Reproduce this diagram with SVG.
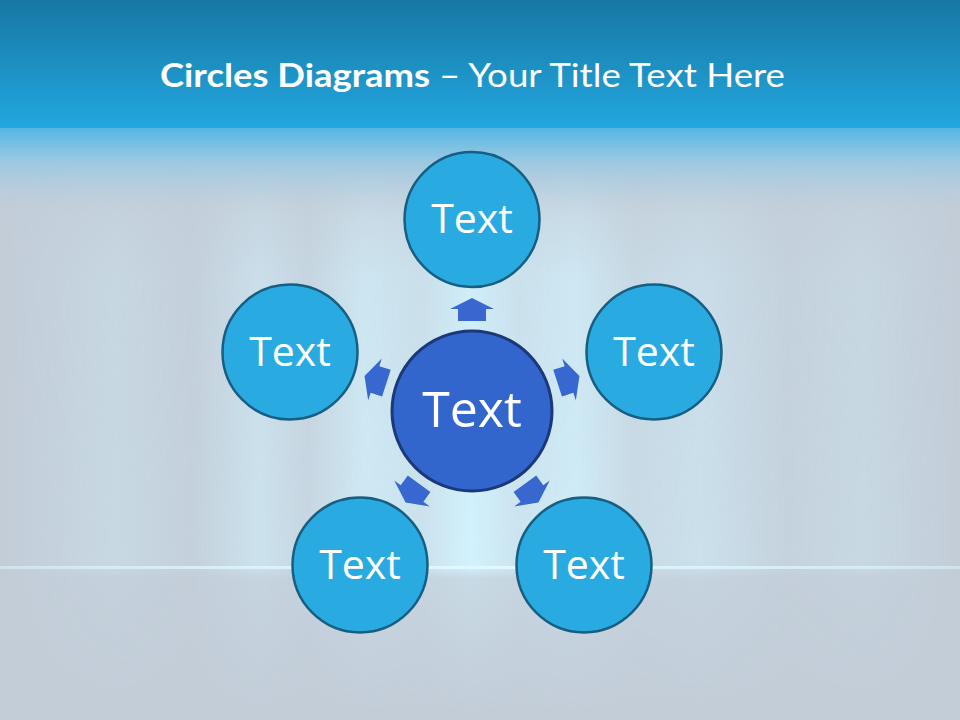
<svg xmlns="http://www.w3.org/2000/svg" width="960" height="720" viewBox="0 0 960 720">
<defs>
<linearGradient id="hdr" x1="0" y1="0" x2="0" y2="1">
<stop offset="0" stop-color="#1877a3"/>
<stop offset="1" stop-color="#22a7e0"/>
</linearGradient>
<linearGradient id="fade" x1="0" y1="0" x2="0" y2="1">
<stop offset="0" stop-color="#55b6e3"/>
<stop offset="0.35" stop-color="#98c8e2"/>
<stop offset="1" stop-color="#c3cfdb" stop-opacity="0"/>
</linearGradient>
<linearGradient id="streak" x1="0" y1="0" x2="1" y2="0">
<stop offset="0" stop-color="#d2f4ff" stop-opacity="0"/>
<stop offset="0.12" stop-color="#d2f4ff" stop-opacity="0.3"/>
<stop offset="0.2" stop-color="#d2f4ff" stop-opacity="0.1"/>
<stop offset="0.27" stop-color="#d2f4ff" stop-opacity="0.55"/>
<stop offset="0.32" stop-color="#d2f4ff" stop-opacity="0.25"/>
<stop offset="0.38" stop-color="#d2f4ff" stop-opacity="0.75"/>
<stop offset="0.44" stop-color="#d2f4ff" stop-opacity="0.55"/>
<stop offset="0.49" stop-color="#d2f4ff" stop-opacity="0.95"/>
<stop offset="0.54" stop-color="#d2f4ff" stop-opacity="0.6"/>
<stop offset="0.6" stop-color="#d2f4ff" stop-opacity="0.8"/>
<stop offset="0.66" stop-color="#d2f4ff" stop-opacity="0.35"/>
<stop offset="0.73" stop-color="#d2f4ff" stop-opacity="0.5"/>
<stop offset="0.82" stop-color="#d2f4ff" stop-opacity="0.15"/>
<stop offset="0.9" stop-color="#d2f4ff" stop-opacity="0.3"/>
<stop offset="1" stop-color="#d2f4ff" stop-opacity="0"/>
</linearGradient>
<linearGradient id="vmask" x1="0" y1="0" x2="0" y2="1">
<stop offset="0" stop-color="#fff" stop-opacity="0"/>
<stop offset="0.25" stop-color="#fff" stop-opacity="0.85"/>
<stop offset="0.74" stop-color="#fff" stop-opacity="1"/>
<stop offset="0.76" stop-color="#fff" stop-opacity="0.35"/>
<stop offset="1" stop-color="#fff" stop-opacity="0"/>
</linearGradient>
<mask id="m1" maskUnits="userSpaceOnUse" x="0" y="130" width="960" height="590">
<rect x="0" y="130" width="960" height="590" fill="url(#vmask)"/>
</mask>
<linearGradient id="hline" x1="0" y1="0" x2="1" y2="0">
<stop offset="0" stop-color="#e0f8ff" stop-opacity="0.5"/>
<stop offset="0.5" stop-color="#e0f8ff" stop-opacity="1"/>
<stop offset="1" stop-color="#e0f8ff" stop-opacity="0.5"/>
</linearGradient>
<path id="arr" d="M0,-113 L22,-102 L14,-102 L14,-90 L-14,-90 L-14,-102 L-22,-102 Z"/>
</defs>
<style>
.outer{fill:#29abe2;stroke:#175e82;stroke-width:2.5}
.center{fill:#3366cc;stroke:#1b3878;stroke-width:3}
.lbl{font-family:"Open Sans","Liberation Sans",sans-serif;fill:#ffffff;text-anchor:middle}
.arrow{fill:#3868cf}
.title{font-family:Lato,"Open Sans","Liberation Sans",sans-serif;fill:#ffffff;font-size:32px}
</style>
<rect width="960" height="720" fill="#c3cdd8"/>
<rect x="0" y="130" width="960" height="590" fill="url(#streak)" mask="url(#m1)"/>
<rect x="0" y="128" width="960" height="90" fill="url(#fade)"/>
<rect x="0" y="0" width="960" height="128" fill="url(#hdr)"/>
<rect x="0" y="566" width="960" height="3" fill="url(#hline)"/>
<g id="title">
<text class="title" x="160" y="87" font-weight="bold" textLength="270" lengthAdjust="spacingAndGlyphs">Circles Diagrams</text>
<text class="title" x="439" y="87" textLength="346" lengthAdjust="spacingAndGlyphs">– Your Title Text Here</text>
</g>
<g id="connectors" class="arrow">
<use href="#arr" transform="translate(472,411)"/>
<use href="#arr" transform="translate(472,411) rotate(72)"/>
<use href="#arr" transform="translate(472,411) rotate(144)"/>
<use href="#arr" transform="translate(472,411) rotate(216)"/>
<use href="#arr" transform="translate(472,411) rotate(288)"/>
</g>
<g id="node-top"><circle class="outer" cx="472" cy="219.5" r="67.5"/><text class="lbl" x="472" y="233" font-size="41">Text</text></g>
<g id="node-right"><circle class="outer" cx="654" cy="352" r="67.5"/><text class="lbl" x="654" y="366" font-size="41">Text</text></g>
<g id="node-bottom-right"><circle class="outer" cx="584" cy="565" r="67.5"/><text class="lbl" x="584" y="579" font-size="41">Text</text></g>
<g id="node-bottom-left"><circle class="outer" cx="360" cy="565" r="67.5"/><text class="lbl" x="360" y="579" font-size="41">Text</text></g>
<g id="node-left"><circle class="outer" cx="290" cy="352" r="67.5"/><text class="lbl" x="290" y="366" font-size="41">Text</text></g>
<g id="node-center"><circle class="center" cx="472" cy="411" r="80"/><text class="lbl" x="472" y="427" font-size="50">Text</text></g>
</svg>
